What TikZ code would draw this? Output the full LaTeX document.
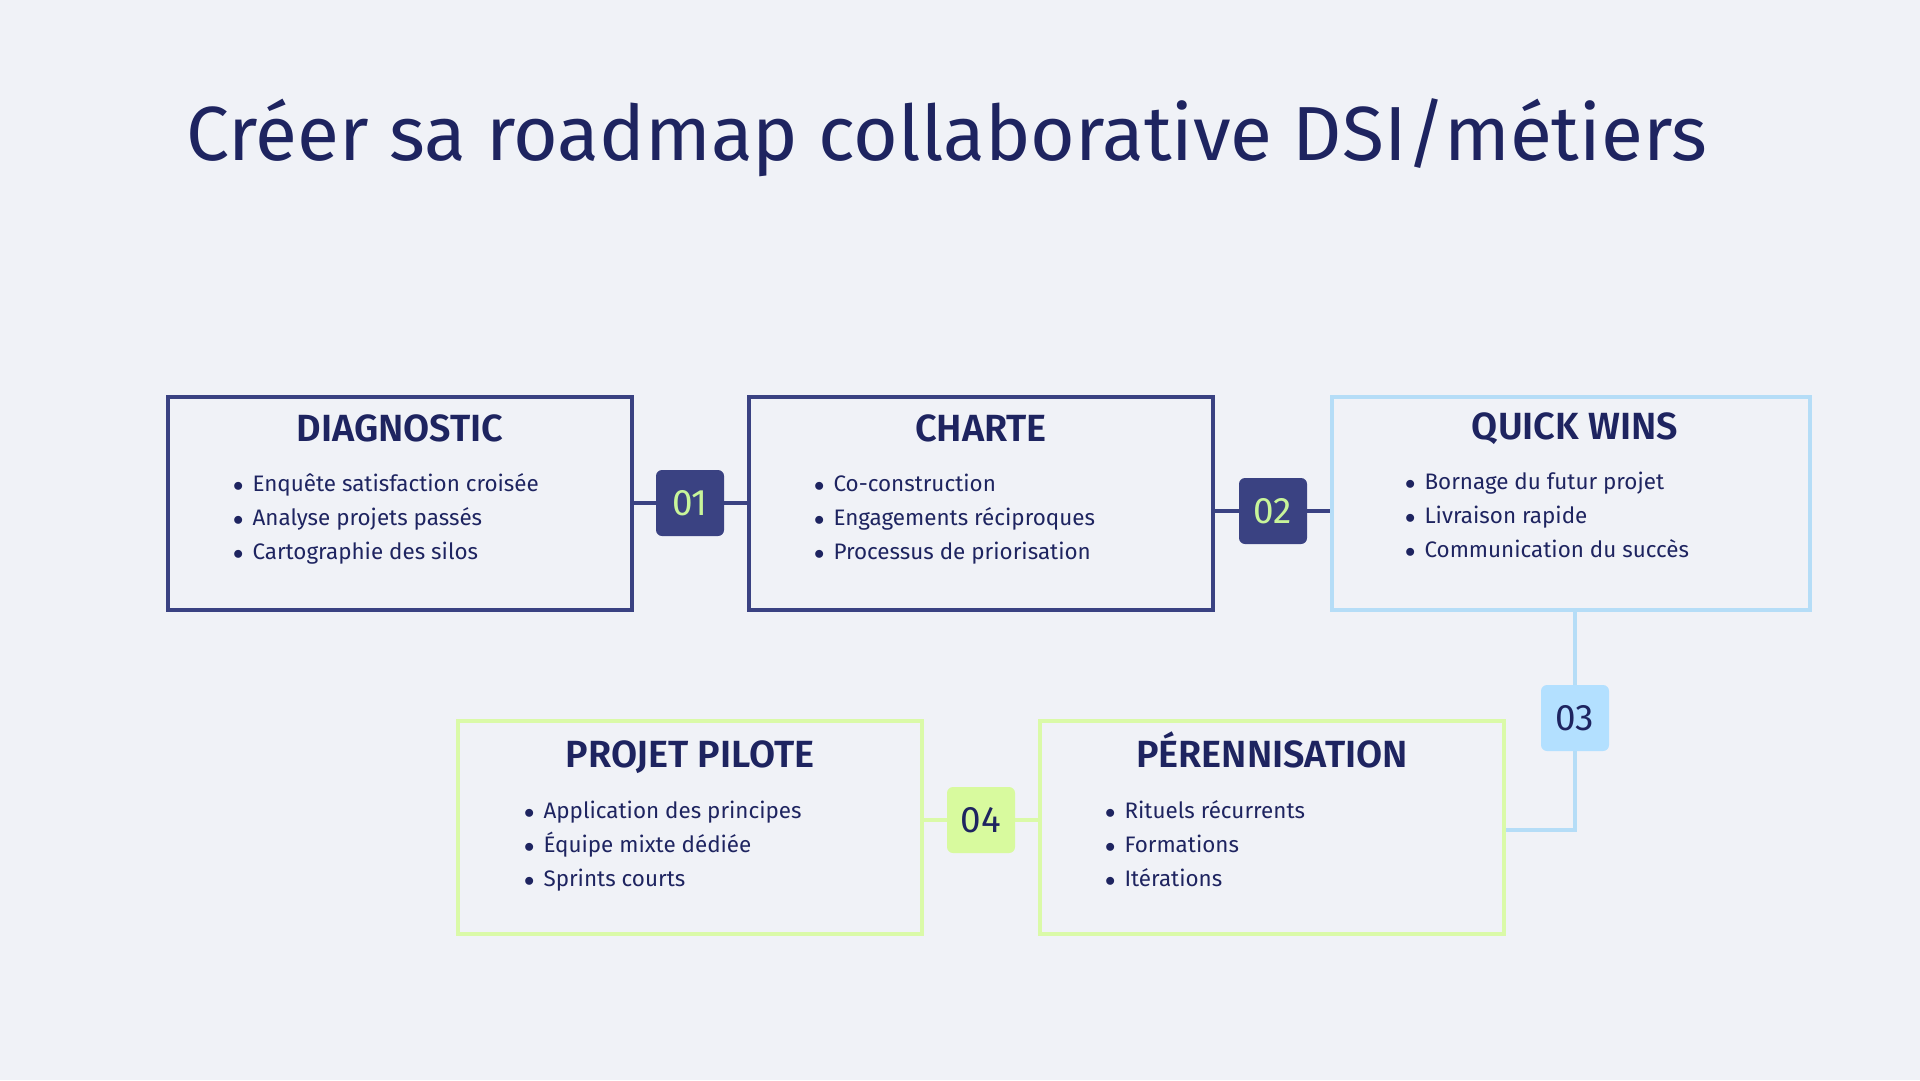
\documentclass[tikz,border=0pt]{standalone}
\usepackage{fontspec}
\setmainfont{Fira Sans}
\newfontfamily\fsbold{Fira Sans SemiBold}
\definecolor{bg}{HTML}{F0F2F7}
\definecolor{navy}{HTML}{3A4282}
\definecolor{ink}{HTML}{1E2460}
\definecolor{lblue}{HTML}{B5DDF7}
\definecolor{lbfill}{HTML}{B3E0FF}
\definecolor{lgreen}{HTML}{DAFAA8}
\definecolor{lgfill}{HTML}{D8FA9E}
\definecolor{numg}{HTML}{C8F59A}
\begin{document}
\begin{tikzpicture}[x=1bp,y=-1bp,
  box/.style={draw=#1,line width=3.5bp,minimum width=464bp,minimum height=213bp,inner sep=0},
  badge/.style={fill=#1,rounded corners=6bp,minimum width=68bp,minimum height=66bp,inner sep=0,font=\fontsize{37}{40}\selectfont},
  conn/.style={draw=#1,line width=3.5bp},
  ttl/.style={font=\fsbold\fontsize{38}{40}\selectfont,text=ink,anchor=base},
  itm/.style={font=\fontsize{22.5}{24}\selectfont,text=ink,anchor=base west,inner sep=0}]
\fill[bg] (0,0) rectangle (1920,1080);
\useasboundingbox (0,0) rectangle (1920,1080);
\node[font=\fontsize{77}{80}\selectfont,text=ink,anchor=base] (title) at (947,160) {Créer sa roadmap collaborative DSI/métiers};
% boxes
\node[box=navy] (b1) at (400,503.5) {};
\node[box=navy] (b2) at (981,503.5) {};
\node[box=lblue,minimum width=478bp] (b3) at (1571,503.5) {};
\node[box=lgreen] (b4) at (690,827.5) {};
\node[box=lgreen] (b5) at (1272,827.5) {};
% badges
\node[badge=navy,text=numg] (n1) at (690,503) {01};
\node[badge=navy,text=numg] (n2) at (1273,511) {02};
\node[badge=lbfill,text=ink] (n3) at (1575,718) {03};
\node[badge=lgfill,text=ink] (n4) at (981,820) {04};
\coordinate (c3) at (1575,830);
% connectors
\draw[conn=navy] (b1.east |- n1) -- (n1.west);
\draw[conn=navy] (n1.east) -- (b2.west |- n1);
\draw[conn=navy] (b2.east |- n2) -- (n2.west);
\draw[conn=navy] (n2.east) -- (b3.west |- n2);
\draw[conn=lblue] (b3.south -| n3) -- (n3.north);
\draw[conn=lblue] (n3.south) -- (c3) -- (b5.east |- c3);
\draw[conn=lgreen] (b5.west |- n4) -- (n4.east);
\draw[conn=lgreen] (n4.west) -- (b4.east |- n4);
% texts
\node[ttl] (t1) at (400,441) {DIAGNOSTIC};
\node[ttl] (t2) at (981,441) {CHARTE};
\node[ttl] (t3) at (1575,439) {QUICK WINS};
\node[ttl] (t4) at (690,767) {PROJET PILOTE};
\node[ttl] (t5) at (1272,767) {PÉRENNISATION};
\foreach \x/\y/\a/\b/\c [count=\i] in {
  233/491/Enquête satisfaction croisée/Analyse projets passés/Cartographie des silos,
  814/491/Co-construction/Engagements réciproques/Processus de priorisation,
  1405/489/Bornage du futur projet/Livraison rapide/Communication du succès,
  524/818/Application des principes/Équipe mixte dédiée/Sprints courts,
  1105/818/Rituels récurrents/Formations/Itérations}{
  \node[itm] (i\i a) at (\x,\y) {$\bullet$\hspace{9bp}\a};
  \node[itm] (i\i b) at (\x,\y+34) {$\bullet$\hspace{9bp}\b};
  \node[itm] (i\i c) at (\x,\y+68) {$\bullet$\hspace{9bp}\c};
}
\end{tikzpicture}
\end{document}
